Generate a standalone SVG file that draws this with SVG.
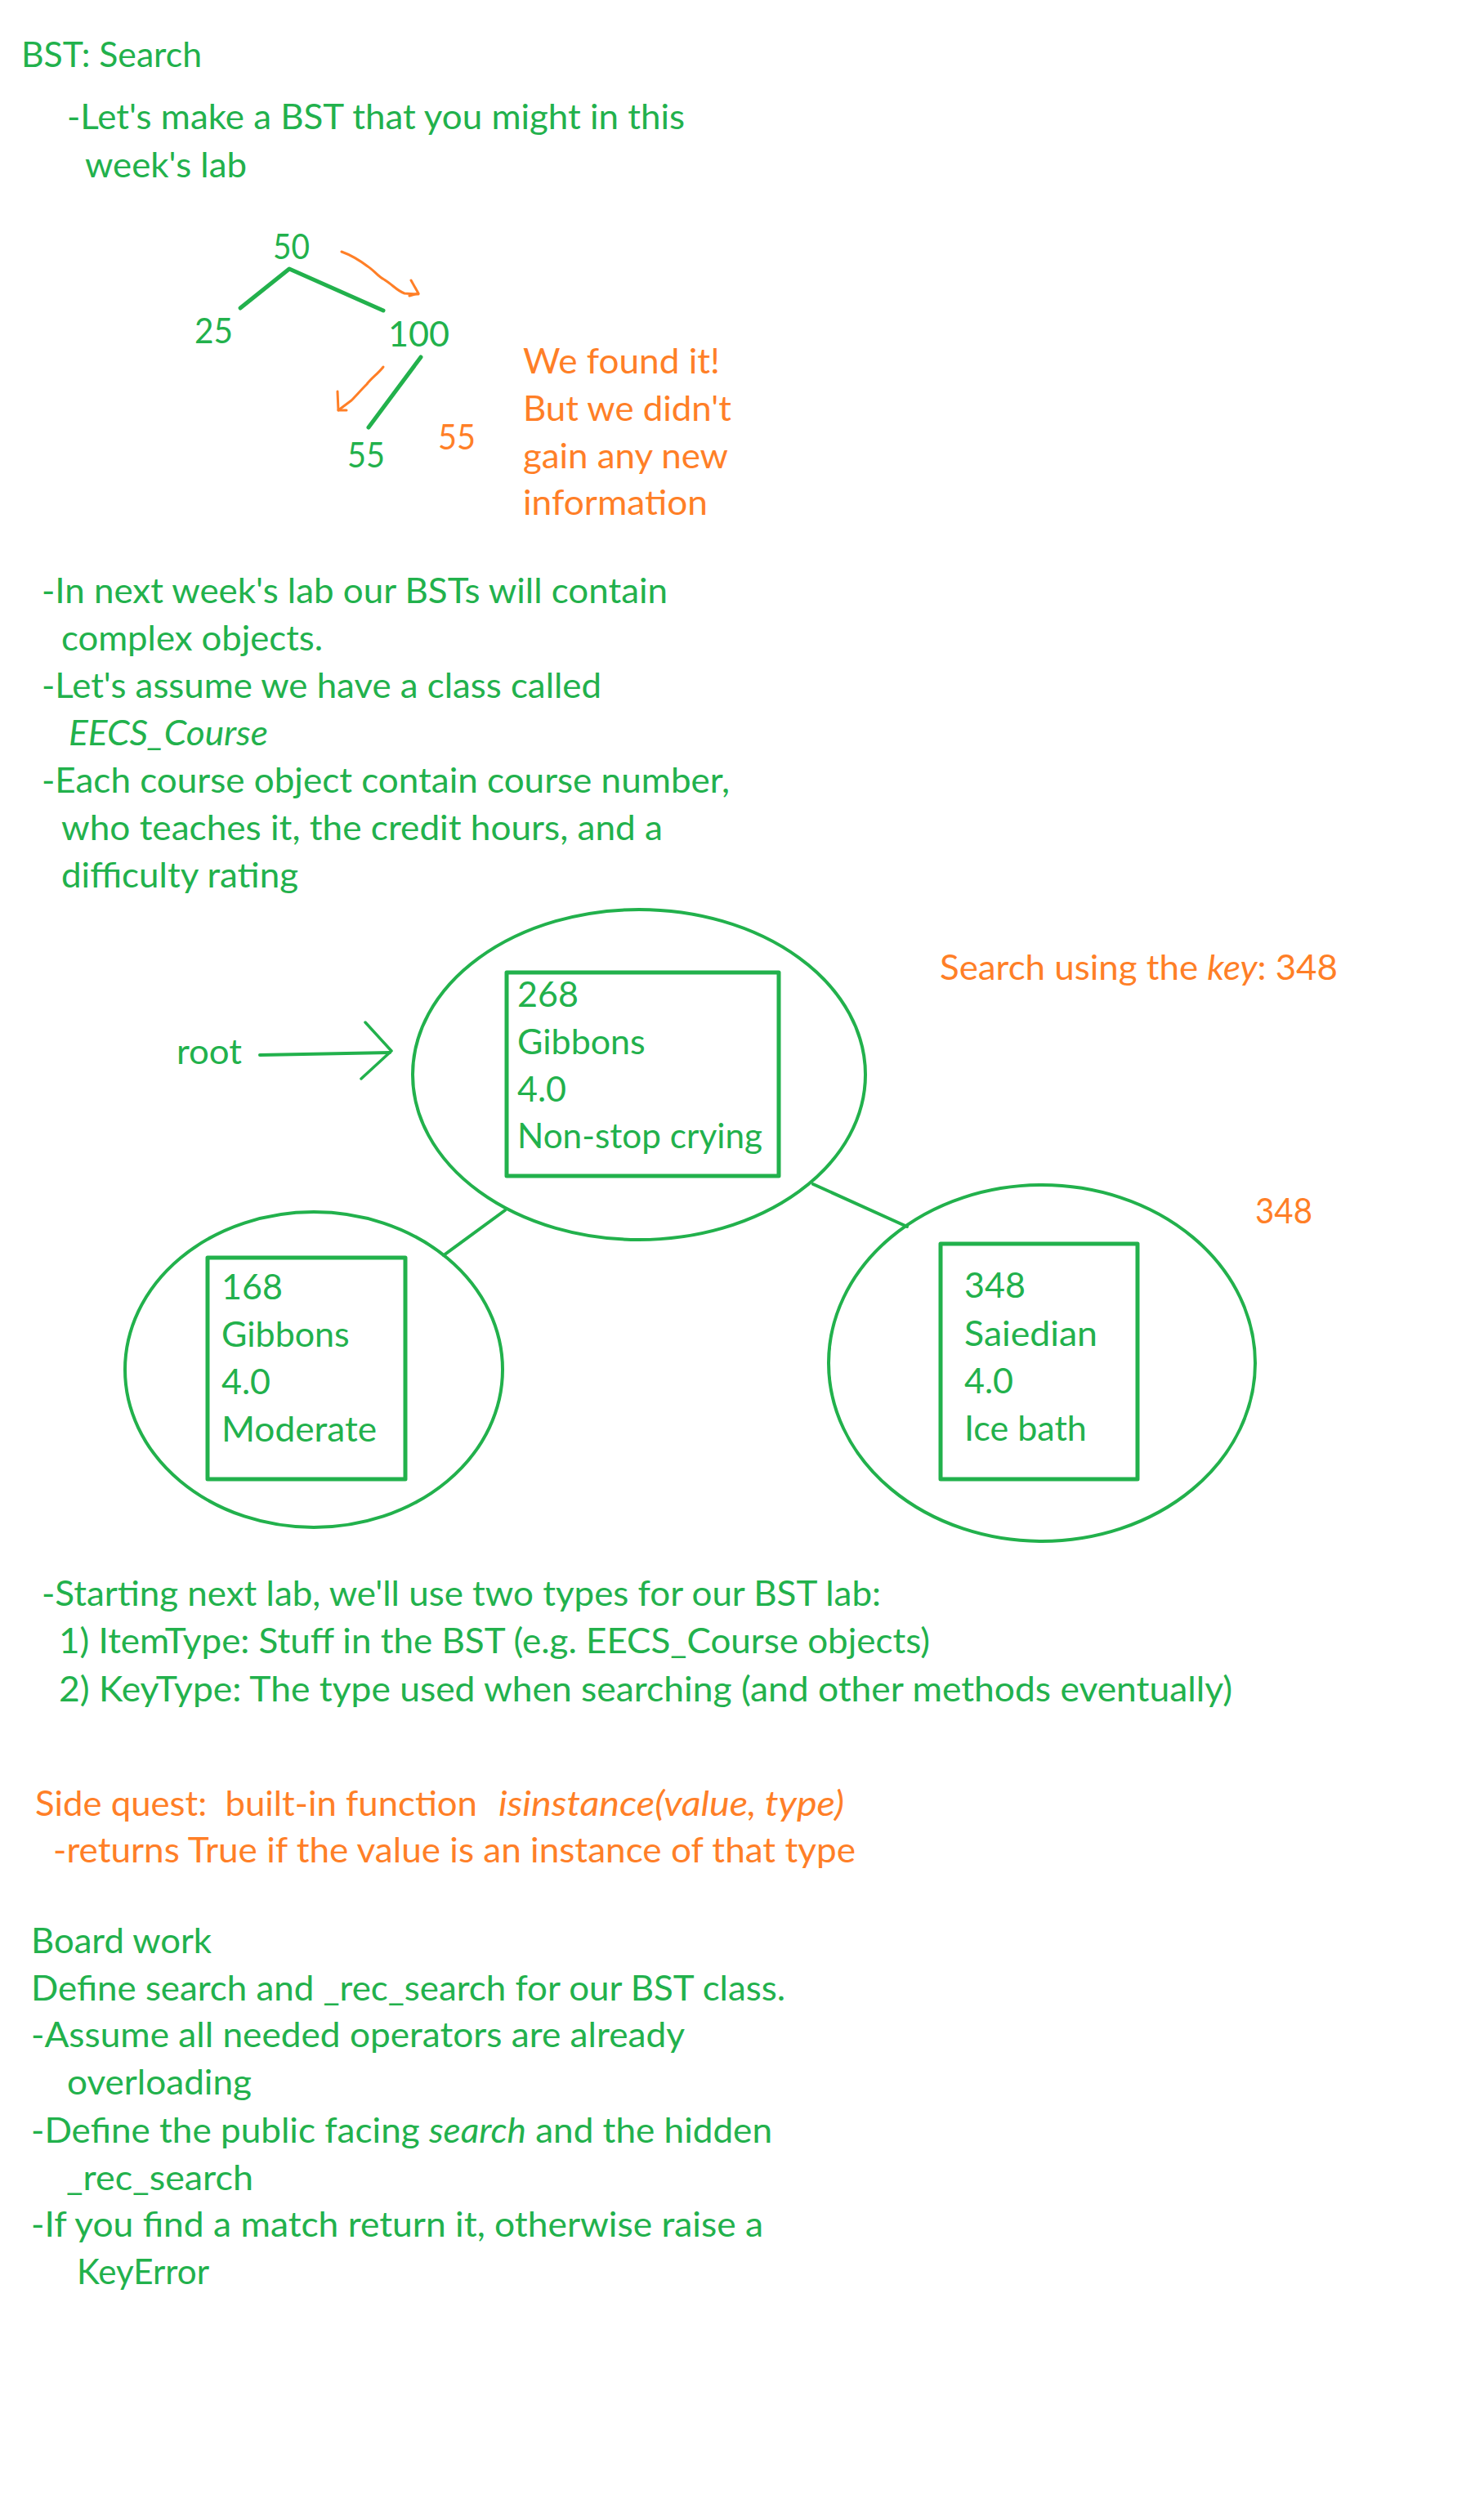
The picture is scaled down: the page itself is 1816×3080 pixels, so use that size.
<svg xmlns="http://www.w3.org/2000/svg" width="1816" height="3080" viewBox="0 0 1816 3080">
<style>
text{font-family:Lato,"Liberation Sans",sans-serif;font-size:43px;}
.g{fill:#22B14C;}
.o{fill:#FF7F27;}
.i{font-style:italic;}
.gs{fill:none;stroke:#22B14C;stroke-linecap:round;stroke-linejoin:round;}
.os{fill:none;stroke:#FF7F27;stroke-width:3;stroke-linecap:round;stroke-linejoin:round;}
</style>
<rect width="1816" height="3080" fill="#fff"/>
<g id="intro">
<text class="g" x="26" y="82" textLength="221" lengthAdjust="spacingAndGlyphs">BST: Search</text>
<text class="g" x="82" y="158" textLength="756" lengthAdjust="spacingAndGlyphs">-Let's make a BST that you might in this</text>
<text class="g" x="104" y="217" textLength="198" lengthAdjust="spacingAndGlyphs">week's lab</text>
</g>
<g id="small-tree-connectors">
<polyline class="gs" stroke-width="5" points="294,377 354,329 469,380"/>
<line class="gs" stroke-width="5" x1="515" y1="437" x2="451" y2="523"/>
<path class="os" d="M418,308 C432,313 442,320 450,326 C458,331 462,338 470,342 C480,348 486,356 495,359 L512,360"/>
<path class="os" d="M503,343 L512,359 L501,362"/>
<path class="os" d="M469,449 C462,458 455,462 449,470 C441,478 436,484 430,490 L414,502"/>
<path class="os" d="M413,479 L414,502 L424,502"/>
</g>
<g id="small-tree-nodes">
<text class="g" x="334" y="317" textLength="45" lengthAdjust="spacingAndGlyphs">50</text>
<text class="g" x="238" y="420" textLength="47" lengthAdjust="spacingAndGlyphs">25</text>
<text class="g" x="475" y="424" textLength="75" lengthAdjust="spacingAndGlyphs">100</text>
<text class="g" x="425" y="572" textLength="46" lengthAdjust="spacingAndGlyphs">55</text>
<text class="o" x="536" y="550" textLength="46" lengthAdjust="spacingAndGlyphs">55</text>
</g>
<g id="found-note">
<text class="o" x="640" y="457" textLength="241" lengthAdjust="spacingAndGlyphs">We found it!</text>
<text class="o" x="640" y="515" textLength="255" lengthAdjust="spacingAndGlyphs">But we didn't</text>
<text class="o" x="640" y="573" textLength="251" lengthAdjust="spacingAndGlyphs">gain any new</text>
<text class="o" x="640" y="630" textLength="226" lengthAdjust="spacingAndGlyphs">information</text>
</g>
<g id="complex-objects">
<text class="g" x="51" y="738" textLength="766" lengthAdjust="spacingAndGlyphs">-In next week's lab our BSTs will contain</text>
<text class="g" x="75" y="796" textLength="320" lengthAdjust="spacingAndGlyphs">complex objects.</text>
<text class="g" x="51" y="854" textLength="685" lengthAdjust="spacingAndGlyphs">-Let's assume we have a class called</text>
<text class="g i" x="84" y="912" textLength="244" lengthAdjust="spacingAndGlyphs">EECS_Course</text>
<text class="g" x="51" y="970" textLength="842" lengthAdjust="spacingAndGlyphs">-Each course object contain course number,</text>
<text class="g" x="75" y="1028" textLength="736" lengthAdjust="spacingAndGlyphs">who teaches it, the credit hours, and a</text>
<text class="g" x="75" y="1086" textLength="290" lengthAdjust="spacingAndGlyphs">difficulty rating</text>
</g>
<g id="connectors">
<line class="gs" stroke-width="4" x1="318" y1="1291" x2="477" y2="1288"/>
<polyline class="gs" stroke-width="3.5" points="447,1251 479,1286 442,1320"/>
<line class="gs" stroke-width="4" x1="618" y1="1481" x2="543" y2="1536"/>
<line class="gs" stroke-width="4" x1="995" y1="1449" x2="1110" y2="1501"/>
</g>
<g id="root-label">
<text class="g" x="216" y="1302" textLength="80" lengthAdjust="spacingAndGlyphs">root</text>
</g>
<g id="node-268">
<ellipse class="gs" stroke-width="4" cx="782" cy="1315" rx="277" ry="202"/>
<rect class="gs" stroke-width="5" x="620" y="1190" width="333" height="249"/>
<text class="g" x="633" y="1232">268</text>
<text class="g" x="633" y="1290">Gibbons</text>
<text class="g" x="633" y="1348">4.0</text>
<text class="g" x="633" y="1405" textLength="300" lengthAdjust="spacingAndGlyphs">Non-stop crying</text>
</g>
<g id="node-168">
<ellipse class="gs" stroke-width="4" cx="384" cy="1676" rx="231" ry="193"/>
<rect class="gs" stroke-width="5" x="254" y="1539" width="242" height="271"/>
<text class="g" x="271" y="1590">168</text>
<text class="g" x="271" y="1648">Gibbons</text>
<text class="g" x="271" y="1706">4.0</text>
<text class="g" x="271" y="1764" textLength="190" lengthAdjust="spacingAndGlyphs">Moderate</text>
</g>
<g id="node-348">
<ellipse class="gs" stroke-width="4" cx="1275" cy="1668" rx="261" ry="218"/>
<rect class="gs" stroke-width="5" x="1151" y="1522" width="241" height="288"/>
<text class="g" x="1180" y="1588">348</text>
<text class="g" x="1180" y="1647" textLength="163" lengthAdjust="spacingAndGlyphs">Saiedian</text>
<text class="g" x="1180" y="1705">4.0</text>
<text class="g" x="1180" y="1763">Ice bath</text>
</g>
<g id="search-notes">
<text class="o" x="1150" y="1199" textLength="487" lengthAdjust="spacingAndGlyphs">Search using the <tspan class="i">key</tspan>: 348</text>
<text class="o" x="1536" y="1497" textLength="70" lengthAdjust="spacingAndGlyphs">348</text>
</g>
<g id="types">
<text class="g" x="51" y="1965" textLength="1027" lengthAdjust="spacingAndGlyphs">-Starting next lab, we'll use two types for our BST lab:</text>
<text class="g" x="72" y="2023" textLength="1066" lengthAdjust="spacingAndGlyphs">1) ItemType: Stuff in the BST (e.g. EECS_Course objects)</text>
<text class="g" x="72" y="2082" textLength="1436" lengthAdjust="spacingAndGlyphs">2) KeyType: The type used when searching (and other methods eventually)</text>
</g>
<g id="side-quest">
<text class="o" x="43" y="2222" textLength="541" lengthAdjust="spacingAndGlyphs" xml:space="preserve">Side quest:  built-in function</text>
<text class="o i" x="610" y="2222" textLength="423" lengthAdjust="spacingAndGlyphs">isinstance(value, type)</text>
<text class="o" x="65" y="2279" textLength="982" lengthAdjust="spacingAndGlyphs">-returns True if the value is an instance of that type</text>
</g>
<g id="board-work">
<text class="g" x="38" y="2390" textLength="221" lengthAdjust="spacingAndGlyphs">Board work</text>
<text class="g" x="38" y="2448" textLength="923" lengthAdjust="spacingAndGlyphs">Define search and _rec_search for our BST class.</text>
<text class="g" x="38" y="2505" textLength="800" lengthAdjust="spacingAndGlyphs">-Assume all needed operators are already</text>
<text class="g" x="82" y="2563" textLength="226" lengthAdjust="spacingAndGlyphs">overloading</text>
<text class="g" x="38" y="2622" textLength="907" lengthAdjust="spacingAndGlyphs">-Define the public facing <tspan class="i">search</tspan> and the hidden</text>
<text class="g" x="81" y="2680" textLength="229" lengthAdjust="spacingAndGlyphs">_rec_search</text>
<text class="g" x="38" y="2737" textLength="896" lengthAdjust="spacingAndGlyphs">-If you find a match return it, otherwise raise a</text>
<text class="g" x="94" y="2795" textLength="162" lengthAdjust="spacingAndGlyphs">KeyError</text>
</g>
</svg>
